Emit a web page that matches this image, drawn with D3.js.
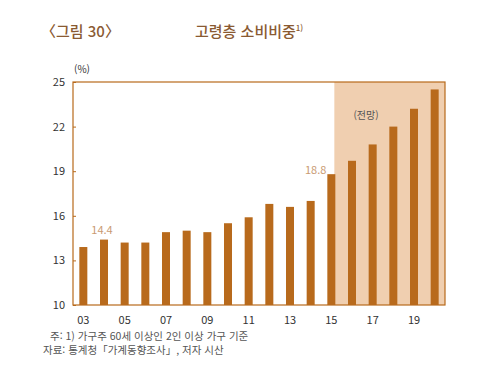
<!DOCTYPE html>
<html lang="ko">
<head>
<meta charset="utf-8">
<script src="https://d3js.org/d3.v7.min.js"></script>
<style>
  body { margin: 0; background: #fff; font-family: "Noto Sans CJK KR", "Noto Sans", sans-serif; }
  svg text { font-family: "Noto Sans CJK KR", "Liberation Sans", sans-serif; }
</style>
</head>
<body>
<svg id="chart" width="500" height="384"></svg>
<script>
  // données
  const years = ["03","04","05","06","07","08","09","10","11","12","13","14","15","16","17","18","19","20"];
  const values = [13.9, 14.4, 14.2, 14.2, 14.9, 15.0, 14.9, 15.5, 15.9, 16.8, 16.6, 17.0, 18.8, 19.7, 20.8, 22.0, 23.2, 24.5];
  const yTicks = [10, 13, 16, 19, 22, 25];
  const xLabels = ["03","05","07","09","11","13","15","17","19"];
  const forecastFrom = "15";
  const valueLabels = [{ year: "04", text: "14.4" }, { year: "15", text: "18.8" }];

  const brown = "#b86a1c", shade = "#f0cfb0", titleCol = "#8a5a32";
  const plot = { left: 73, right: 445, top: 82, bottom: 305 };

  const svg = d3.select("#chart");

  const x = d3.scaleBand().domain(years).range([plot.left, plot.right]);
  const y = d3.scaleLinear().domain([10, 25]).range([plot.bottom, plot.top]);
  const barW = 8;
  const cx = d => x(d) + x.bandwidth() / 2;

  // zone de prévision
  const shadeX = cx(forecastFrom) + barW / 2 - 1;
  svg.append("rect")
    .attr("x", shadeX).attr("y", plot.top)
    .attr("width", plot.right - shadeX).attr("height", plot.bottom - plot.top)
    .attr("fill", shade);

  // barres
  svg.selectAll("rect.bar")
    .data(years)
    .enter()
    .append("rect")
    .attr("class", "bar")
    .attr("x", d => cx(d) - barW / 2)
    .attr("y", (d, i) => y(values[i]))
    .attr("width", barW)
    .attr("height", (d, i) => y(10) - y(values[i]))
    .attr("fill", brown);

  // cadre
  svg.append("rect")
    .attr("x", plot.left).attr("y", plot.top)
    .attr("width", plot.right - plot.left).attr("height", plot.bottom - plot.top)
    .attr("fill", "none").attr("stroke", brown).attr("stroke-width", 1.2);

  // axe y (graduations vers l'intérieur)
  const yAxis = svg.append("g")
    .attr("transform", `translate(${plot.left},0)`)
    .call(d3.axisRight(y).tickValues(yTicks).tickSize(3).tickFormat(""));
  yAxis.select(".domain").remove();
  yAxis.selectAll("line").attr("stroke", brown);
  svg.selectAll("text.ytick")
    .data(yTicks)
    .enter()
    .append("text")
    .attr("class", "ytick")
    .attr("x", plot.left - 8).attr("y", d => y(d) + 4)
    .attr("text-anchor", "end")
    .attr("font-size", 11).attr("fill", "#333")
    .text(d => d);

  // axe x
  svg.selectAll("text.xtick")
    .data(xLabels)
    .enter()
    .append("text")
    .attr("class", "xtick")
    .attr("x", d => cx(d)).attr("y", plot.bottom + 19)
    .attr("text-anchor", "middle")
    .attr("font-size", 11).attr("fill", "#333")
    .text(d => d);

  svg.append("text").attr("x", plot.left + 1).attr("y", plot.top - 9)
    .attr("font-size", 10).attr("fill", "#333").text("(%)");

  // étiquettes de valeurs
  valueLabels.forEach(l => {
    const v = values[years.indexOf(l.year)];
    const t = svg.append("text").attr("font-size", 11).attr("fill", "#c99a72").text(l.text);
    if (l.year === forecastFrom) {
      t.attr("x", cx(l.year) - barW / 2 - 1).attr("y", y(v)).attr("text-anchor", "end");
    } else {
      t.attr("x", cx(l.year) - 2).attr("y", y(v) - 6).attr("text-anchor", "middle");
    }
  });

  svg.append("text").attr("x", 366).attr("y", 119)
    .attr("text-anchor", "middle").attr("font-size", 10).attr("fill", "#555").text("(전망)");

  // titres
  svg.append("text").attr("x", 41).attr("y", 37)
    .attr("font-size", 15).attr("font-weight", 500).attr("fill", titleCol).text("〈그림 30〉");
  const title = svg.append("text").attr("x", 195).attr("y", 37)
    .attr("font-size", 15).attr("font-weight", 500).attr("fill", titleCol);
  title.append("tspan").text("고령층 소비비중");
  title.append("tspan").attr("dy", -6).attr("font-size", 8).text("1)");

  // notes
  svg.append("text").attr("x", 50).attr("y", 340)
    .attr("font-size", 10.5).attr("fill", "#555").text("주: 1) 가구주 60세 이상인 2인 이상 가구 기준");
  svg.append("text").attr("x", 43).attr("y", 354)
    .attr("font-size", 10.5).attr("fill", "#555").text("자료: 통계청「가계동향조사」, 저자 시산");
</script>
</body>
</html>
